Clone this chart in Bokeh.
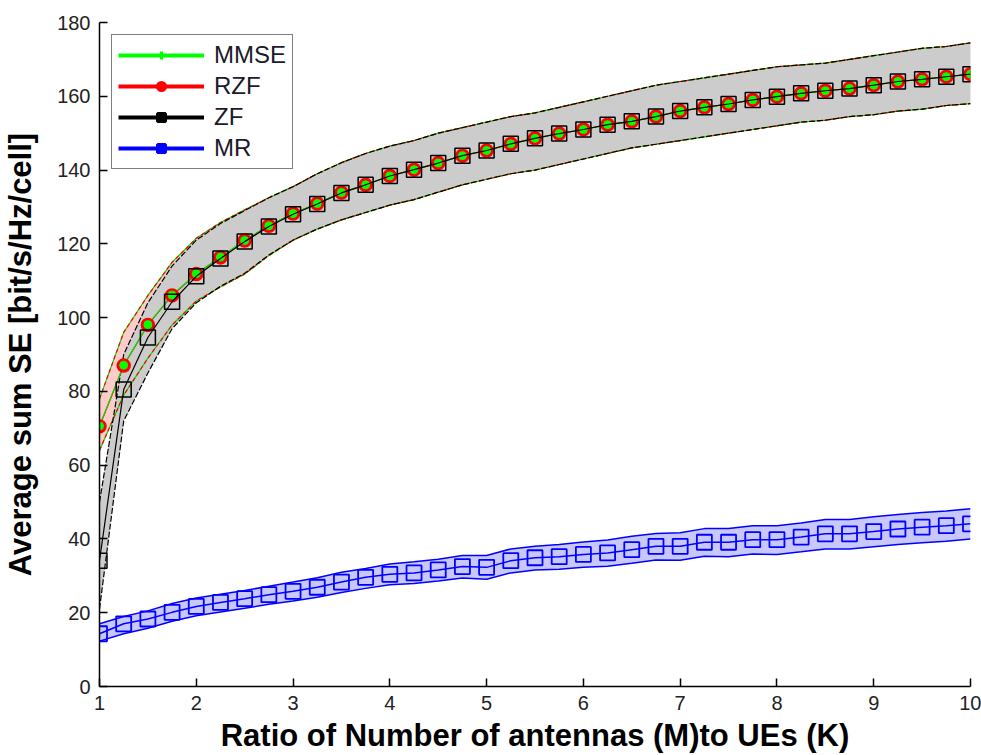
from bokeh.plotting import figure
from bokeh.models import Range1d, FixedTicker, Legend, LegendItem, ColumnDataSource
from bokeh.embed import file_html
from bokeh.resources import INLINE

# ---------------- data ----------------
ratio = [1.0, 1.25, 1.5, 1.75, 2.0, 2.25, 2.5, 2.75, 3.0, 3.25, 3.5, 3.75, 4.0,
         4.25, 4.5, 4.75, 5.0, 5.25, 5.5, 5.75, 6.0, 6.25, 6.5, 6.75, 7.0,
         7.25, 7.5, 7.75, 8.0, 8.25, 8.5, 8.75, 9.0, 9.25, 9.5, 9.75, 10.0]

rzf_mean = [70.5, 87.0, 98.0, 106.0, 111.8, 116.3, 120.9, 124.9, 128.2, 130.9, 133.9, 136.0, 138.4,
            140.1, 141.9, 143.9, 145.3, 147.1, 148.6, 149.9, 151.0, 152.3, 153.2, 154.5, 156.0,
            157.0, 157.9, 159.0, 159.9, 160.8, 161.5, 162.1, 163.0, 164.0, 164.6, 165.3, 166.0]
mmse_mean = [70.6, 87.1, 98.1, 106.1, 111.9, 116.4, 120.9, 124.9, 128.2, 130.9, 133.9, 136.0, 138.4,
             140.1, 141.9, 143.9, 145.3, 147.1, 148.6, 149.9, 151.0, 152.3, 153.2, 154.5, 156.0,
             157.0, 157.9, 159.0, 159.9, 160.8, 161.5, 162.1, 163.0, 164.0, 164.6, 165.3, 166.0]
zf_mean = [34.1, 80.5, 94.6, 104.3, 111.2, 116.0, 120.6, 124.7, 128.0, 130.8, 133.8, 136.0, 138.4,
           140.1, 141.9, 143.9, 145.3, 147.1, 148.6, 149.9, 151.0, 152.3, 153.2, 154.5, 156.0,
           157.0, 157.9, 159.0, 159.9, 160.8, 161.5, 162.1, 163.0, 164.0, 164.6, 165.3, 166.0]
mr_mean = [14.3, 17.0, 18.3, 20.1, 21.7, 22.8, 23.8, 24.9, 25.8, 26.9, 28.3, 29.6, 30.4,
           30.8, 31.6, 32.5, 32.3, 34.1, 34.9, 35.2, 35.8, 36.2, 37.1, 38.0, 38.0,
           39.1, 39.1, 39.8, 39.8, 40.5, 41.4, 41.4, 42.0, 42.7, 43.2, 43.6, 44.1]

zf_upper = [50.0, 90.0, 104.0, 114.0, 121.0, 125.5, 129.0, 132.5, 135.5, 139.0, 142.0, 144.5, 146.5,
            148.0, 150.0, 151.5, 153.0, 154.5, 155.5, 157.0, 158.5, 160.0, 161.5, 163.0, 164.0,
            165.0, 166.0, 167.0, 168.0, 168.5, 169.0, 170.0, 171.0, 172.0, 173.0, 173.5, 174.5]
zf_lower = [21.0, 72.0, 85.0, 97.0, 104.0, 108.5, 112.0, 117.0, 121.0, 124.0, 126.5, 128.5, 130.5,
            132.0, 134.0, 136.0, 137.5, 139.0, 140.0, 141.5, 143.0, 144.5, 146.0, 147.0, 148.0,
            149.0, 150.0, 151.0, 152.0, 153.0, 153.5, 154.5, 155.0, 156.0, 156.5, 157.5, 158.0]
rzf_upper = [78.0, 96.0, 106.0, 115.0, 121.5, 125.8, 129.2, 132.5, 135.5, 139.0, 142.0, 144.5, 146.5,
             148.0, 150.0, 151.5, 153.0, 154.5, 155.5, 157.0, 158.5, 160.0, 161.5, 163.0, 164.0,
             165.0, 166.0, 167.0, 168.0, 168.5, 169.0, 170.0, 171.0, 172.0, 173.0, 173.5, 174.5]
rzf_lower = [64.0, 79.0, 89.0, 98.0, 104.5, 108.3, 111.8, 116.8, 121.0, 124.0, 126.5, 128.5, 130.5,
             132.0, 134.0, 136.0, 137.5, 139.0, 140.0, 141.5, 143.0, 144.5, 146.0, 147.0, 148.0,
             149.0, 150.0, 151.0, 152.0, 153.0, 153.5, 154.5, 155.0, 156.0, 156.5, 157.5, 158.0]
mr_upper = [17.0, 19.0, 20.5, 22.5, 24.0, 25.0, 26.0, 27.2, 28.3, 29.5, 31.0, 32.0, 33.2,
            33.8, 34.5, 35.5, 35.5, 37.3, 38.0, 38.5, 39.2, 39.7, 40.7, 41.5, 41.7,
            42.8, 42.8, 43.6, 43.6, 44.3, 45.3, 45.3, 46.0, 46.6, 47.2, 47.6, 48.2]
mr_lower = [12.3, 14.3, 15.8, 17.7, 19.2, 20.2, 21.2, 22.3, 23.2, 24.2, 25.5, 26.6, 27.6,
            27.9, 28.6, 29.4, 29.1, 30.8, 31.6, 31.8, 32.3, 32.6, 33.4, 34.3, 34.2,
            35.3, 35.2, 35.9, 35.8, 36.5, 37.3, 37.3, 37.9, 38.5, 39.0, 39.4, 40.0]

x_ticks = [1, 2, 3, 4, 5, 6, 7, 8, 9, 10]
y_ticks = [0, 20, 40, 60, 80, 100, 120, 140, 160, 180]
series_names = ["MMSE", "RZF", "ZF", "MR"]

# ---------------- figure ----------------
TICK_FONT = "Liberation Sans"
LABEL_FONT = "Liberation Sans"

p = figure(width=981, height=755, x_range=Range1d(1, 10), y_range=Range1d(0, 180),
           output_backend="svg", toolbar_location=None,
           min_border_left=97, min_border_right=11, min_border_top=22, min_border_bottom=69)
p.outline_line_color = None
p.xgrid.visible = False
p.ygrid.visible = False
p.background_fill_color = "white"
p.border_fill_color = "white"

for ax in (p.xaxis[0], p.yaxis[0]):
    ax.axis_line_color = "black"
    ax.axis_line_width = 1.5
    ax.major_tick_line_color = "black"
    ax.major_tick_line_width = 1.5
    ax.major_tick_in = 8
    ax.major_tick_out = 0
    ax.minor_tick_line_color = None
    ax.major_label_text_font = TICK_FONT
    ax.major_label_text_font_size = "20px"
    ax.major_label_text_color = "#222222"
    ax.axis_label_text_font = LABEL_FONT
    ax.axis_label_text_font_style = "bold"
    ax.axis_label_text_font_size = "31px"
    ax.axis_label_text_color = "black"

p.xaxis[0].ticker = FixedTicker(ticks=x_ticks)
p.yaxis[0].ticker = FixedTicker(ticks=y_ticks)
p.xaxis[0].axis_label = "Ratio of Number of antennas (M)to UEs (K)"
p.yaxis[0].axis_label = "Average sum SE [bit/s/Hz/cell]"
p.xaxis[0].major_label_standoff = 9
p.xaxis[0].axis_label_standoff = 5
p.yaxis[0].major_label_standoff = 9
p.yaxis[0].axis_label_standoff = 16

src = ColumnDataSource(dict(x=ratio, rzf=rzf_mean, mmse=mmse_mean, zf=zf_mean, mr=mr_mean,
                            zfu=zf_upper, zfl=zf_lower, rzu=rzf_upper, rzl=rzf_lower,
                            mru=mr_upper, mrl=mr_lower))

# bands
p.varea(x="x", y1="rzl", y2="rzu", source=src, fill_color="#c8f0c8")
p.varea(x="x", y1="rzl", y2="rzu", source=src, fill_color="#ffcccc")
p.varea(x="x", y1="zfl", y2="zfu", source=src, fill_color="#cccccc")
p.varea(x="x", y1="mrl", y2="mru", source=src, fill_color="#c8c8ff")

# band edges
for col in ("rzu", "rzl"):
    p.line(x="x", y=col, source=src, line_color="#00e000", line_width=1.2)
    p.line(x="x", y=col, source=src, line_color="red", line_width=1.2, line_dash="4 3")
for col in ("zfu", "zfl"):
    p.line(x="x", y=col, source=src, line_color="black", line_width=1.2, line_dash="6 2")
for col in ("mru", "mrl"):
    p.line(x="x", y=col, source=src, line_color="blue", line_width=1.5)

# mean curves
p.line(x="x", y="mr", source=src, line_color="blue", line_width=1.5)
p.scatter(x="x", y="mr", source=src, marker="square", size=15, line_color="blue",
          line_width=1.8, fill_color=None)

p.line(x="x", y="rzf", source=src, line_color="red", line_width=1.2)
p.line(x="x", y="mmse", source=src, line_color="#00e000", line_width=1.2)
p.scatter(x="x", y="rzf", source=src, marker="circle", size=13, line_color="red",
          line_width=1.5, fill_color="red")
p.scatter(x="x", y="mmse", source=src, marker="circle", size=8, line_color="#00ff00",
          line_width=1, fill_color="#00ff00")
p.line(x="x", y="zf", source=src, line_color="black", line_width=1.2)
p.scatter(x="x", y="zf", source=src, marker="square", size=15, line_color="black",
          line_width=1.5, fill_color=None)

# legend (legend-only glyphs, not drawn in the plot, thick like the reference)
nan = float("nan")
leg_src = ColumnDataSource(dict(x=[nan], y=[nan]))
leg_specs = [("#00ff00", "cross", 10), ("red", "circle", 12), ("black", "square", 12), ("blue", "square", 12)]
items = []
for name, (c, m, s) in zip(series_names, leg_specs):
    r1 = p.line(x="x", y="y", source=leg_src, line_color=c, line_width=4)
    r2 = p.scatter(x="x", y="y", source=leg_src, marker=m, size=s, line_color=c,
                   line_width=3, fill_color=c)
    items.append(LegendItem(label=name, renderers=[r1, r2]))

legend = Legend(items=items, location="top_left", margin=12, padding=6,
                spacing=3, glyph_width=86, glyph_height=20, label_height=20,
                label_standoff=10, label_text_font=LABEL_FONT, label_text_font_size="24px",
                label_text_color="#1a1a2a", border_line_color="black", border_line_width=1.2,
                background_fill_color="white", background_fill_alpha=1.0)
p.add_layout(legend)

open("out.html", "w").write(file_html(p, INLINE))
